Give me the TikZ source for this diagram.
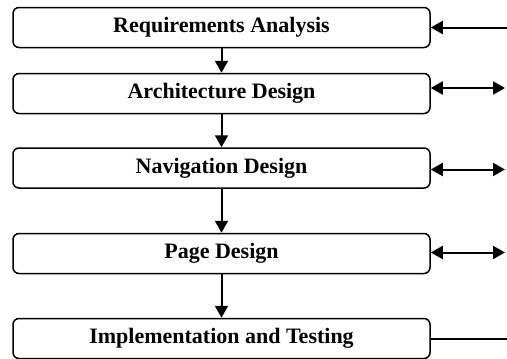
\documentclass[tikz,border=0pt]{standalone}
\usepackage{fontspec}
\setmainfont{Liberation Serif}
\usetikzlibrary{arrows.meta}
\tikzset{
  phase/.style={draw,line width=1.5pt,rounded corners=6pt,minimum width=417pt,minimum height=40pt,
    inner sep=0pt,font=\bfseries\fontsize{22}{24}\selectfont},
  flow/.style={-{Triangle[length=12pt,width=13pt]},line width=2pt},
  both/.style={{Triangle[length=12pt,width=13pt]}-{Triangle[length=12pt,width=13pt]},line width=2pt},
}
\begin{document}
\begin{tikzpicture}[x=1pt,y=-1pt]
\useasboundingbox (0,0) rectangle (507,359);
% phases
	\node[phase] (req) at (221.5,27.5) {Requirements Analysis};
	\node[phase] (arch) at (221.5,93.5) {Architecture Design};
	\node[phase] (nav) at (221.5,168) {Navigation Design};
	\node[phase] (page) at (221.5,253.5) {Page Design};
	\node[phase] (impl) at (221.5,338.5) {Implementation and Testing};

	% outside ends
	\coordinate (reqR) at (507,27.5);
	\coordinate (archR) at (505,88);
	\coordinate (navR) at (505,169.5);
	\coordinate (pageR) at (505,252.5);
	\coordinate (implR) at (507,338.5);

	%Links
	\draw[flow] (req) -- (arch);
	\draw[flow] (arch) -- (nav);
	\draw[flow] (nav) -- (page);
	\draw[flow] (page) -- (impl);

	\draw[flow] (reqR) -- (req.east);
	\draw[both] (arch.east |- archR) -- (archR);
	\draw[both] (nav.east |- navR) -- (navR);
	\draw[both] (page.east |- pageR) -- (pageR);
	\draw[line width=2pt] (impl.east) -- (implR);
\end{tikzpicture}
\end{document}
